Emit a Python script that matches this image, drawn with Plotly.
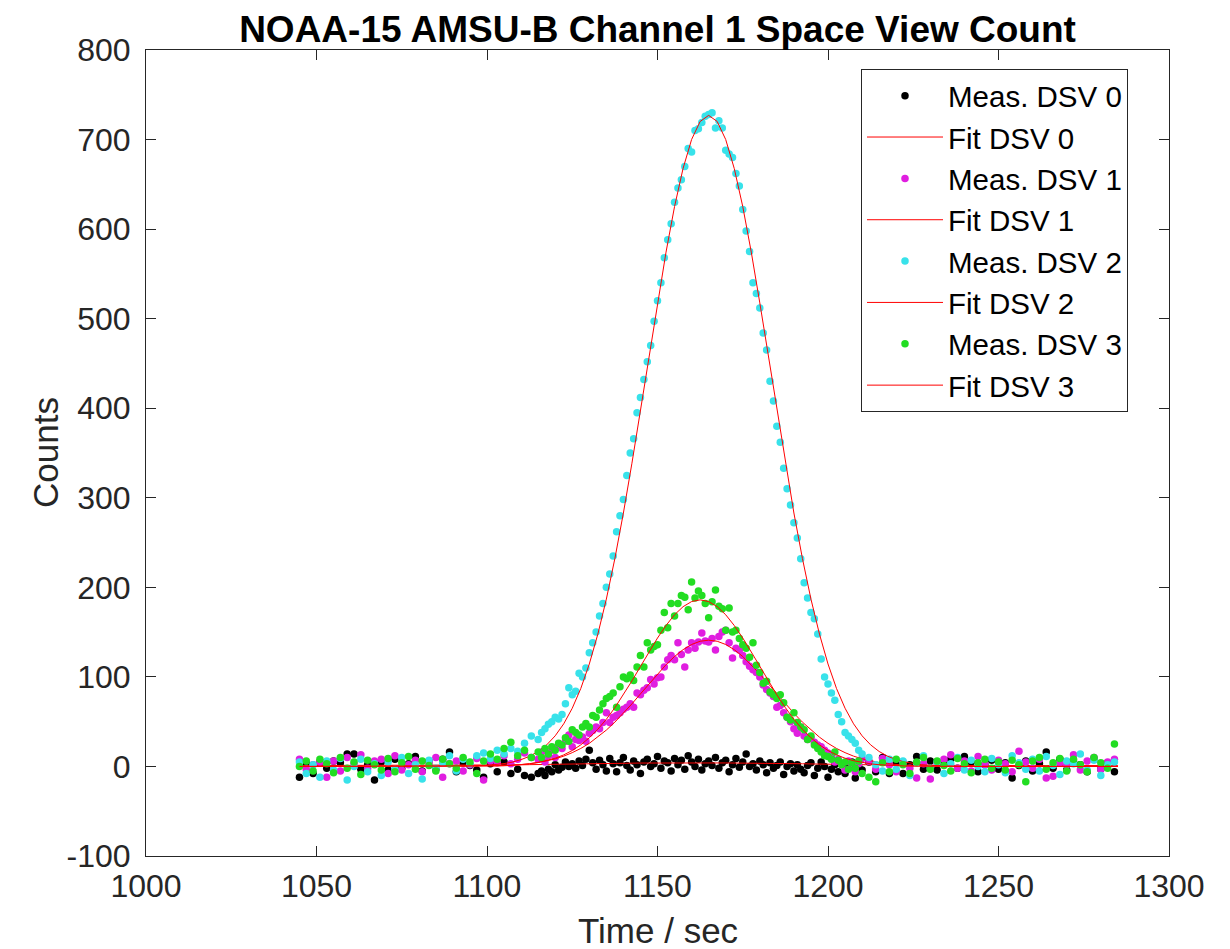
import plotly.graph_objects as go

# ---------------- data ----------------
T_LEFT = [1045, 1047, 1049, 1051, 1053, 1055, 1057, 1059, 1061, 1063,
          1065, 1067, 1069, 1071, 1073, 1075, 1077, 1079, 1081, 1083,
          1085, 1087, 1089, 1091, 1093, 1095, 1097, 1099, 1101, 1103,
          1105, 1107, 1109, 1111, 1113]
T_MID = [1115, 1116, 1117, 1118, 1119, 1120, 1121, 1122, 1123, 1124,
         1125, 1126, 1127, 1128, 1129, 1130, 1131, 1132, 1133, 1134,
         1135, 1136, 1137, 1138, 1139, 1140, 1141, 1142, 1143, 1144,
         1145, 1146, 1147, 1148, 1149, 1150, 1151, 1152, 1153, 1154,
         1155, 1156, 1157, 1158, 1159, 1160, 1161, 1162, 1163, 1164,
         1165, 1166, 1167, 1168, 1169, 1170, 1171, 1172, 1173, 1174,
         1175, 1176, 1177, 1178, 1179, 1180, 1181, 1182, 1183, 1184,
         1185, 1186, 1187, 1188, 1189, 1190, 1191, 1192, 1193, 1194,
         1195, 1196, 1197, 1198, 1199, 1200, 1201, 1202, 1203, 1204,
         1205, 1206, 1207, 1208, 1209, 1210]
T_RIGHT = [1212, 1214, 1216, 1218, 1220, 1222, 1224, 1226, 1228, 1230,
           1232, 1234, 1236, 1238, 1240, 1242, 1244, 1246, 1248, 1250,
           1252, 1254, 1256, 1258, 1260, 1262, 1264, 1266, 1268, 1270,
           1272, 1274, 1276, 1278, 1280, 1282, 1284]
TIME = T_LEFT + T_MID + T_RIGHT

MEAS_DSV0 = [
    -12, 3, -8, 5, -2, 6, 4, 14, 14, -3,
    2, -15, 5, -4, 8, -2, 3, 11, -5, 6,
    -3, 8, 16, -6, 4, 1, -4, -12, 3, -6,
    5, -8, -3, -10, -12,
    -8, -5, -10, -3, -6, 2, -4, -1, 5, 0,
    3, -2, 6, 1, 8, 18, 4, -3, 7, 2,
    -5, 9, 3, -6, 4, 10, 1, -4, 6, 2,
    -8, 5, 8, 0, 3, 11, -2, 6, 4, -5,
    9, 2, 7, -3, 12, 5, 0, 8, -4, 3,
    6, 1, 10, -2, 4, 7, -6, 2, 9, -1,
    5, 14, 0, 3, -4, 6, 2, -7, 4, -2,
    1, 5, -9, 0, 3, -5, 2, -3, -7, 1,
    4, -10, -2, 5, 0, -12, -3, 2, -6, 3,
    -8, -1, 5, -13, 0, -4,
    5, -6, 10, -8, 4, -8, 2, 11, -3, 6,
    -4, 3, 8, -2, 11, 5, -6, 2, 7, -3,
    4, -13, 1, 6, -5, 3, 16, -2, 8, -4,
    5, 2, -6, 9, -3, 4, -6]

MEAS_DSV1 = [
    8, -3, 2, 5, -12, 6, -5, 10, 3, 13,
    -2, 6, 8, -8, 12, -4, 2, 7, -6, 4,
    10, -12, 3, 6, -5, 2, 9, -15, 6, 4,
    12, 3, 8, 15, 10,
    8, 16, 5, 12, 18, 10, 24, 20, 28, 35,
    22, 30, 29, 33, 28, 37, 40, 44, 42, 49,
    60, 49, 55, 57, 60, 64, 66, 70, 66, 82,
    80, 85, 88, 97, 92, 99, 100, 111, 119, 124,
    119, 138, 125, 111, 130, 138, 132, 139, 149, 140,
    139, 143, 130, 145, 150, 152, 138, 121, 132, 130,
    124, 117, 112, 108, 105, 100, 91, 86, 82, 78,
    66, 68, 60, 55, 50, 42, 37, 44, 34, 30,
    32, 27, 24, 22, 18, 15, 11, 5, 8, 2,
    -4, 6, 0, -6, 3, 9,
    6, -3, 9, 2, -6, 5, -2, -13, 3, -14,
    4, 8, 13, -2, 6, -5, 11, 2, -4, 7,
    3, -6, 17, 5, -2, 8, -13, -11, 4, 2,
    13, -4, 6, 10, -3, 5, 8]

MEAS_DSV2 = [
    5, -8, 2, -12, 6, -4, 9, -15, 0, 8,
    -6, 3, -10, 5, -3, 10, -8, 2, -14, 7,
    -2, 4, 12, -5, 8, 3, 12, 15, 9, 18,
    14, 20, 17, 26, 34,
    30, 38, 42, 47, 50, 55, 53, 58, 70, 88,
    80, 84, 104, 100, 110, 127, 138, 150, 168, 182,
    200, 215, 235, 262, 280, 298, 325, 350, 366, 395,
    412, 432, 452, 470, 497, 520, 540, 568, 588, 606,
    630, 646, 655, 670, 690, 686, 710, 712, 719, 726,
    728, 730, 713, 721, 713, 688, 684, 680, 662, 648,
    622, 598, 575, 540, 528, 512, 484, 465, 430, 408,
    380, 362, 333, 310, 292, 272, 255, 232, 205, 188,
    172, 165, 148, 120, 100, 92, 82, 74, 58, 50,
    38, 34, 30, 26, 18, 14,
    10, 2, -5, 8, -3, 6, -10, 4, 12, -2,
    5, -8, 3, 10, -4, 7, 0, -6, 9, 2,
    -7, 12, 4, -3, 8, -5, 11, 1, -9, 6,
    3, 14, -4, 7, -10, 2, 5]

MEAS_DSV3 = [
    0, 6, -5, 8, 3, -7, 10, -2, 5, -9,
    7, 2, -4, 9, -6, 4, 11, -3, 6, 1,
    -5, 8, 3, -2, 10, 5, -8, 6, 14, 8,
    20, 27, 12, 18, 10,
    16, 10, 20, 14, 22, 18, 26, 24, 32, 28,
    41, 38, 35, 44, 48, 44, 57, 55, 63, 70,
    76, 78, 82, 66, 89, 100, 98, 102, 96, 111,
    124, 111, 138, 130, 134, 136, 152, 172, 155, 182,
    168, 182, 191, 189, 175, 206, 188, 196, 191, 182,
    166, 184, 197, 179, 176, 152, 177, 150, 152, 143,
    136, 132, 122, 138, 113, 105, 93, 95, 83, 80,
    76, 80, 71, 55, 52, 60, 49, 44, 41, 30,
    34, 24, 20, 16, 12, 11, 8, 16, 7, 2,
    5, -3, 4, -2, 6, -8,
    -12, -17, 4, -6, 8, 2, -8, 5, 10, -3,
    6, 1, -5, 9, 3, -7, 4, 8, -2, 5,
    -4, 7, 2, -17, 6, 10, -3, 4, 9, -5,
    8, 2, -6, 10, 4, -2, 25]

FIT_T = [1045, 1070, 1090, 1095,
         1100, 1102.5, 1105, 1107.5, 1110, 1112.5, 1115, 1117.5, 1120, 1122.5,
         1125, 1127.5, 1130, 1132.5, 1135, 1137.5, 1140, 1142.5, 1145, 1147.5,
         1150, 1152.5, 1155, 1157.5, 1160, 1162.5, 1165, 1167.5, 1170, 1172.5,
         1175, 1177.5, 1180, 1182.5, 1185, 1187.5, 1190, 1192.5, 1195, 1197.5,
         1200, 1202.5, 1205, 1207.5, 1210, 1212.5, 1215, 1217.5, 1220, 1222.5,
         1225, 1227.5, 1230,
         1235, 1240, 1260, 1285]

FIT_DSV0 = [1.0, 1.0, 1.1, 1.2,
            1.3, 1.4, 1.5, 1.6, 1.8, 2.0, 2.2, 2.4, 2.6, 2.8,
            3.0, 3.1, 3.2, 3.3, 3.4, 3.5, 3.6, 3.7, 3.8, 3.8,
            3.9, 3.9, 4.0, 4.0, 4.0, 4.0, 4.0, 3.9, 3.9, 3.8,
            3.8, 3.7, 3.6, 3.5, 3.4, 3.3, 3.2, 3.0, 2.8, 2.6,
            2.4, 2.2, 2.0, 1.9, 1.8, 1.7, 1.6, 1.5, 1.4, 1.3,
            1.3, 1.2, 1.2,
            1.1, 1.1, 1.0, 1.0]
FIT_DSV1 = [0, 0, 0.1, 0.2,
            0.4, 0.6, 1.0, 1.4, 2.1, 3.1, 4.4, 6.2, 8.5, 11.5,
            15.4, 20.1, 25.8, 32.7, 40.6, 49.5, 59.4, 69.9, 81.0, 92.3,
            103.3, 113.6, 122.8, 130.4, 136.2, 139.8, 141.0, 139.8, 136.2, 130.4,
            122.8, 113.6, 103.3, 92.3, 81.0, 69.9, 59.4, 49.5, 40.6, 32.7,
            25.8, 20.1, 15.4, 11.5, 8.5, 6.2, 4.4, 3.1, 2.1, 1.4,
            1.0, 0.6, 0.4,
            0.2, 0.1, 0, 0]
FIT_DSV2 = [0, 0, 0.1, 0.4,
            1.2, 2.0, 3.2, 4.9, 7.6, 11.4, 16.7, 24.1, 34.2, 47.6,
            65.0, 87.0, 114.4, 147.7, 186.9, 232.2, 283.0, 338.6, 397.5, 457.9,
            517.6, 574.3, 625.2, 667.8, 700.1, 720.2, 727.0, 720.2, 700.1, 667.8,
            625.2, 574.3, 517.6, 457.9, 397.5, 338.6, 283.0, 232.2, 186.9, 147.7,
            114.4, 87.0, 65.0, 47.6, 34.2, 24.1, 16.7, 11.4, 7.6, 4.9,
            3.2, 2.0, 1.2,
            0.4, 0.1, 0, 0]
FIT_DSV3 = [0, 0, 0, 0.1,
            0.3, 0.5, 0.8, 1.2, 1.9, 2.9, 4.3, 6.4, 9.2, 12.9,
            17.8, 24.1, 32.0, 41.5, 52.7, 65.6, 80.0, 95.5, 111.6, 127.8,
            143.4, 157.4, 169.4, 178.4, 184.1, 186.0, 184.1, 178.4, 169.4, 157.4,
            143.4, 127.8, 111.6, 95.5, 80.0, 65.6, 52.7, 41.5, 32.0, 24.1,
            17.8, 12.9, 9.2, 6.4, 4.3, 2.9, 1.9, 1.2, 0.8, 0.5,
            0.3, 0.2, 0.1,
            0, 0, 0, 0]

MEAS_NAMES = ["Meas. DSV 0", "Meas. DSV 1", "Meas. DSV 2", "Meas. DSV 3"]
FIT_NAMES = ["Fit DSV 0", "Fit DSV 1", "Fit DSV 2", "Fit DSV 3"]
MEAS_COLORS = ["#000000", "#e01ee0", "#38e2ea", "#22dd22"]
FIT_COLOR = "#ff0000"

X_TICKS = [1000, 1050, 1100, 1150, 1200, 1250, 1300]
X_TICK_TEXT = ["1000", "1050", "1100", "1150", "1200", "1250", "1300"]
Y_TICKS = [-100, 0, 100, 200, 300, 400, 500, 600, 700, 800]
Y_TICK_TEXT = ["-100", "0", "100", "200", "300", "400", "500", "600", "700", "800"]

TITLE = "NOAA-15 AMSU-B Channel 1 Space View Count"
X_LABEL = "Time / sec"
Y_LABEL = "Counts"

# ---------------- figure ----------------
MEAS = [MEAS_DSV0, MEAS_DSV1, MEAS_DSV2, MEAS_DSV3]
FITS = [FIT_DSV0, FIT_DSV1, FIT_DSV2, FIT_DSV3]
for m in MEAS:
    assert len(m) == len(TIME), len(m)
for f in FITS:
    assert len(f) == len(FIT_T), len(f)

FONT = "Liberation Sans, Arial, Helvetica, sans-serif"
AX = "#262626"

# page body has an 8px margin; the figure is sized so the axes land where the reference has them
W, H = 1222, 941
L, T, R, B = 138, 42, 61, 93
PW, PH = W - L - R, H - T - B

fig = go.Figure()
for i in range(4):
    fig.add_trace(go.Scatter(
        x=TIME, y=MEAS[i], mode="markers", name=MEAS_NAMES[i],
        marker=dict(size=7.5, color=MEAS_COLORS[i], line=dict(width=0)),
    ))
    fig.add_trace(go.Scatter(
        x=FIT_T, y=FITS[i], mode="lines", name=FIT_NAMES[i],
        line=dict(color=FIT_COLOR, width=1),
    ))

axis_common = dict(
    showgrid=False, zeroline=False, showline=True, linecolor=AX, linewidth=1,
    mirror="ticks", ticks="inside", ticklen=10, tickcolor=AX, tickwidth=1,
    tickfont=dict(family=FONT, size=32, color=AX),
)
fig.update_xaxes(range=[1000, 1300], tickvals=X_TICKS, ticktext=X_TICK_TEXT,
                 ticklabelstandoff=2, **axis_common)
fig.update_yaxes(range=[-100, 800], tickvals=Y_TICKS, ticktext=Y_TICK_TEXT,
                 ticklabelstandoff=8, **axis_common)

fig.update_layout(
    width=W, height=H,
    margin=dict(l=L, r=R, t=T, b=B, autoexpand=False),
    plot_bgcolor="white", paper_bgcolor="white",
    font=dict(family=FONT, size=32, color=AX),
    title=dict(text="<b>" + TITLE + "</b>", x=0.5, xref="paper", xanchor="center",
               y=1 - 21 / H, yref="container", yanchor="middle",
               font=dict(family=FONT, size=37, color="black")),
    showlegend=True,
    legend=dict(x=(853 - L) / PW, y=(H - B - 61) / PH, xanchor="left", yanchor="top",
                bgcolor="white", bordercolor=AX, borderwidth=1,
                font=dict(family=FONT, size=29.5, color="black"),
                itemwidth=76, tracegroupgap=0, traceorder="normal"),
    annotations=[
        dict(text=X_LABEL, x=0.5, y=-(922 - (H - B)) / PH, xref="paper", yref="paper",
             showarrow=False, xanchor="center", yanchor="middle",
             font=dict(family=FONT, size=35, color=AX)),
        dict(text=Y_LABEL, x=-(L - 37) / PW, y=0.5, xref="paper", yref="paper",
             showarrow=False, xanchor="center", yanchor="middle", textangle=-90,
             font=dict(family=FONT, size=35, color=AX)),
    ],
)

fig.write_html("out.html")
